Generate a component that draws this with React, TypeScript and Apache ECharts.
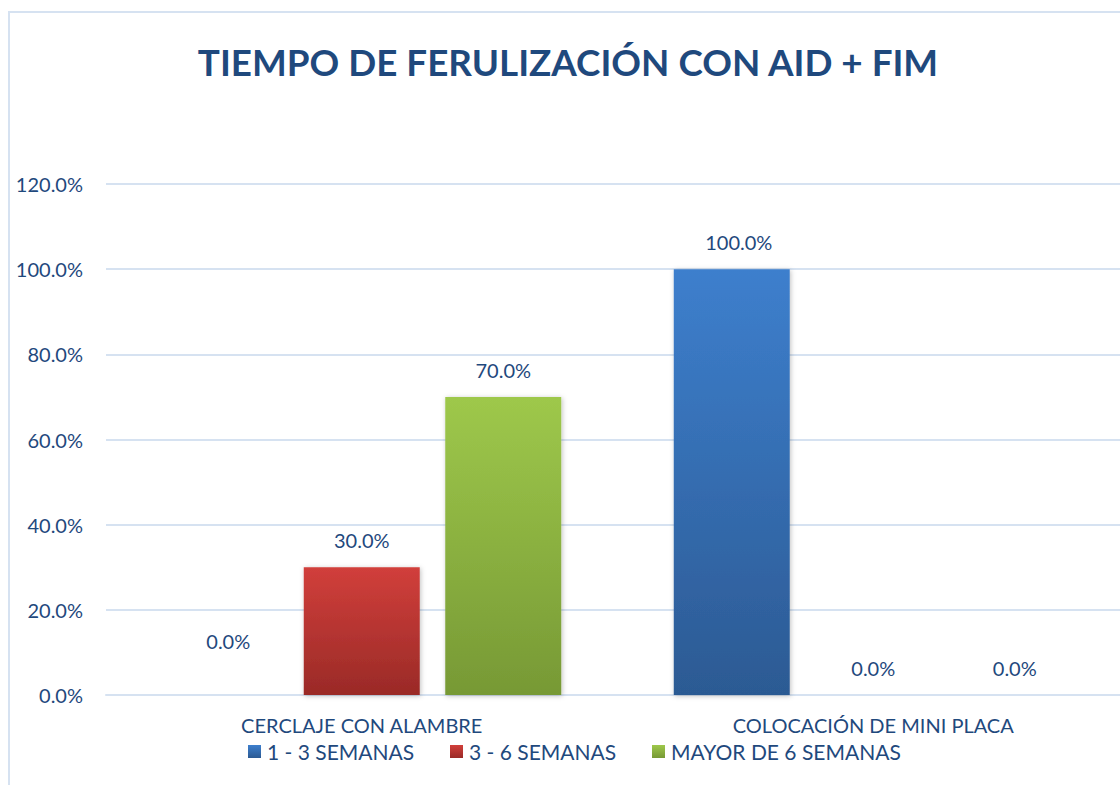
import React, { useEffect, useRef } from "react";
import * as echarts from "echarts";

const categories = ["CERCLAJE CON ALAMBRE", "COLOCACIÓN DE MINI PLACA"];
const seriesNames = ["1 - 3 SEMANAS", "3 - 6 SEMANAS", "MAYOR DE 6 SEMANAS"];
const values1to3 = [0.0, 100.0];
const values3to6 = [30.0, 0.0];
const valuesMayor6 = [70.0, 0.0];
const yTicks = [0, 20, 40, 60, 80, 100, 120];

const TEXT = "#1F497D";
const FONT = "Lato, 'Open Sans', sans-serif";

export default function App() {
  const ref = useRef<HTMLDivElement>(null);
  useEffect(() => {
    document.body.style.margin = "0";
    const chart = echarts.init(ref.current!, undefined, { renderer: "svg" });
    const grad = (top: string, bottom: string) =>
      new echarts.graphic.LinearGradient(0, 0, 0, 1, [
        { offset: 0, color: top },
        { offset: 1, color: bottom },
      ]);
    const colors = [
      grad("#3D7FCD", "#2C5A93"),
      grad("#D13F3B", "#9A2A27"),
      grad("#9EC84B", "#779935"),
    ];
    const labelOffsets: number[][][] = [
      [[8, -27], [7, 0]],
      [[0, 0], [0, 0]],
      [[0, 0], [0, 0]],
    ];
    const allValues = [values1to3, values3to6, valuesMayor6];
    const series = allValues.map((vals, si) => ({
      name: seriesNames[si],
      type: "bar",
      barGap: "22%",
      barCategoryGap: "22%",
      itemStyle: {
        color: colors[si],
        shadowColor: "rgba(0,0,0,0.25)",
        shadowBlur: 5,
        shadowOffsetX: 1,
        shadowOffsetY: 1,
      },
      label: {
        show: true,
        position: "top",
        distance: 17,
        color: TEXT,
        fontFamily: FONT,
        fontSize: 20,
        formatter: (p: any) => p.value.toFixed(1) + "%",
      },
      data: vals.map((v, i) => ({
        value: v,
        label: { offset: labelOffsets[si][i] },
      })),
    }));
    const legendLefts = [248, 450, 652];
    chart.setOption({
      animation: false,
      backgroundColor: "#ffffff",
      title: {
        text: "TIEMPO DE FERULIZACIÓN CON AID + FIM",
        left: 563,
        top: 38,
        textAlign: "center",
        textStyle: {
          color: TEXT,
          fontFamily: FONT,
          fontWeight: "bold",
          fontSize: 36.8,
        },
      },
      legend: seriesNames.map((n, i) => ({
        top: 741,
        left: legendLefts[i],
        itemWidth: 13,
        itemHeight: 13,
        itemGap: 10,
        icon: "rect",
        padding: 0,
        textStyle: { color: TEXT, fontFamily: FONT, fontSize: 21, padding: [0, 0, 0, 1] },
        data: [n],
      })),
      grid: { left: 106, top: 184, width: 1023, height: 511 },
      xAxis: {
        type: "category",
        data: categories,
        axisLine: { lineStyle: { color: "#D6E2F1", width: 2 } },
        axisTick: { show: false },
        axisLabel: { color: TEXT, fontFamily: FONT, fontSize: 20, margin: 20 },
      },
      yAxis: {
        type: "value",
        min: yTicks[0],
        max: yTicks[yTicks.length - 1],
        interval: 20,
        axisLine: { show: false },
        axisTick: { show: false },
        splitLine: { lineStyle: { color: "#D6E2F1", width: 2 } },
        axisLabel: {
          color: TEXT,
          fontFamily: FONT,
          fontSize: 20,
          margin: 23,
          formatter: (v: number) => v.toFixed(1) + "%",
        },
      },
      graphic: [
        {
          type: "rect",
          shape: { x: 9, y: 12, width: 1300, height: 900 },
          style: { fill: "none", stroke: "#D6E2F1", lineWidth: 2 },
          silent: true,
          z: 100,
        },
      ],
      series,
    });
    return () => chart.dispose();
  }, []);
  return (
    <div style={{ width: 1120, height: 785, overflow: "hidden", position: "relative" }}>
      <div ref={ref} style={{ width: 1160, height: 785 }} />
    </div>
  );
}
